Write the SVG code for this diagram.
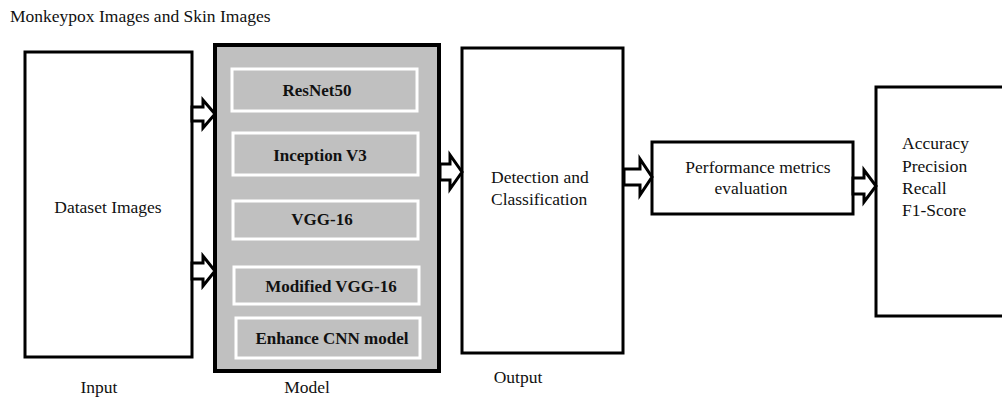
<svg xmlns="http://www.w3.org/2000/svg" width="1002" height="398" viewBox="0 0 1002 398">
<style>
.t{font-family:"Liberation Serif","Times New Roman",serif;font-size:17.5px;fill:#111}
.b{font-family:"Liberation Serif","Times New Roman",serif;font-size:17px;font-weight:bold;fill:#111;text-anchor:middle}
.box{fill:#fff;stroke:#000;stroke-width:3}
.inner{fill:#c0c0c0;stroke:#fff;stroke-width:3}
.arr{fill:#fff;stroke:#000;stroke-width:3;stroke-linejoin:miter}
</style>
<rect width="1002" height="398" fill="#fff"/>
<text class="t" x="10" y="22">Monkeypox Images and Skin Images</text>
<g id="input">
<rect class="box" x="25" y="52" width="167" height="305"/>
<text class="t" x="108" y="213" text-anchor="middle">Dataset Images</text>
<text class="t" x="99" y="393" text-anchor="middle">Input</text>
</g>
<g id="model">
<rect x="215" y="45" width="224" height="326" fill="#c0c0c0" stroke="#000" stroke-width="4"/>
<rect class="inner" x="232" y="69" width="185" height="42"/>
<text class="b" x="317" y="96">ResNet50</text>
<rect class="inner" x="233" y="133" width="185" height="42"/>
<text class="b" x="320" y="161">Inception V3</text>
<rect class="inner" x="233" y="201" width="185" height="38"/>
<text class="b" x="322" y="225">VGG-16</text>
<rect class="inner" x="234" y="267" width="185" height="37"/>
<text class="b" x="331" y="292">Modified VGG-16</text>
<rect class="inner" x="236" y="318" width="184" height="40"/>
<text class="b" x="332" y="344">Enhance CNN model</text>
<text class="t" x="307" y="393" text-anchor="middle">Model</text>
</g>
<g id="output">
<rect class="box" x="462" y="48" width="161" height="305"/>
<text class="t" x="491" y="183">Detection and</text>
<text class="t" x="491" y="205">Classification</text>
<text class="t" x="518" y="383" text-anchor="middle">Output</text>
</g>
<g id="performance">
<rect class="box" x="652" y="142" width="201" height="72"/>
<text class="t" x="758" y="173" text-anchor="middle">Performance metrics</text>
<text class="t" x="751" y="194" text-anchor="middle">evaluation</text>
</g>
<g id="metrics">
<rect class="box" x="876" y="87" width="130" height="229"/>
<text class="t" x="902" y="149">Accuracy</text>
<text class="t" x="902" y="172">Precision</text>
<text class="t" x="902" y="194">Recall</text>
<text class="t" x="902" y="216">F1-Score</text>
</g>
<g id="connectors">
<path class="arr" d="M192,107 H203 V100 L215,114 L203,128 V121 H192 Z"/>
<path class="arr" d="M192,263 H203 V256 L215,271 L203,286 V279 H192 Z"/>
<path class="arr" d="M440,164 H450 V155 L462,172 L450,189 V180 H440 Z"/>
<path class="arr" d="M624,169 H640 V159 L652,177 L640,195 V185 H624 Z"/>
<path class="arr" d="M853,178 H864 V170 L876,186 L864,202 V194 H853 Z"/>
</g>
</svg>
